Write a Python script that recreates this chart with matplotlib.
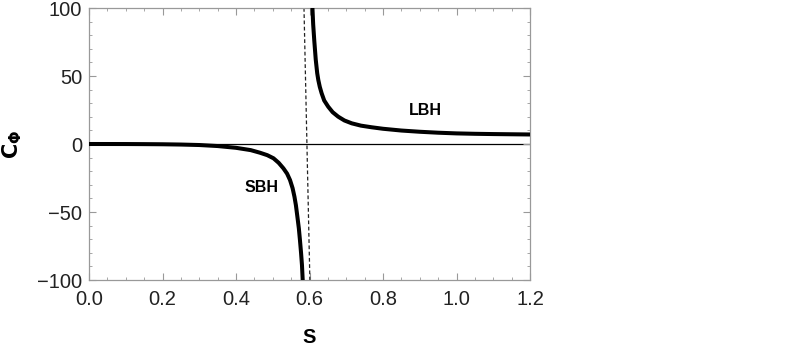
import matplotlib
matplotlib.use("Agg")
import matplotlib.pyplot as plt
from matplotlib.ticker import MultipleLocator

plt.rcParams['font.family'] = ['Liberation Sans', 'DejaVu Sans']

# Small black hole branch
s_sbh = [0.0, 0.05, 0.1, 0.15, 0.2, 0.25, 0.3, 0.35, 0.4, 0.44, 0.465, 0.485, 0.502,
         0.516, 0.529, 0.539, 0.547, 0.554, 0.559, 0.563, 0.567, 0.571, 0.574, 0.577,
         0.5795, 0.5815, 0.583]
c_sbh = [0.0, -0.01, -0.03, -0.1, -0.2, -0.4, -0.75, -1.5, -2.8, -4.5, -6.4, -8.2, -10.5,
         -13.8, -17.9, -21.8, -26.5, -32.5, -38.7, -45.0, -53.4, -62.0, -70.6, -80.0,
         -89.0, -100.0, -112.0]

# Large black hole branch
s_lbh = [0.606, 0.608, 0.610, 0.613, 0.617, 0.621, 0.624, 0.628, 0.633, 0.640, 0.651,
         0.663, 0.678, 0.695, 0.715, 0.74, 0.769, 0.80, 0.85, 0.9, 0.95, 1.0, 1.05,
         1.1, 1.15, 1.2]
c_lbh = [115.0, 100.0, 88.0, 76.0, 62.0, 52.0, 47.0, 42.0, 37.3, 32.0, 27.4,
         23.4, 20.1, 17.3, 15.2, 13.5, 12.3, 11.2, 9.9, 9.0, 8.3, 7.8, 7.5,
         7.3, 7.15, 7.0]

# Asymptote (dashed)
s_asym = [0.585, 0.601]
c_asym = [100.0, -100.0]

labels = {"SBH": (0.470, -32.1), "LBH": (0.914, 24.3)}

fig = plt.figure(figsize=(7.85, 3.46), dpi=100)
ax = fig.add_axes([89/785, 1-280/346, (530-89)/785, (280-8)/346])

ax.axhline(0, color='black', lw=0.9, zorder=1)
ax.plot(s_asym, c_asym, color='#222222', lw=0.9, ls=(0, (3, 2)), zorder=2)
ax.plot(s_sbh, c_sbh, color='black', lw=2.9, solid_capstyle='butt',
        solid_joinstyle='round', zorder=3)
ax.plot(s_lbh, c_lbh, color='black', lw=2.9, solid_capstyle='butt',
        solid_joinstyle='round', zorder=3)

for t, (x, y) in labels.items():
    ax.text(x, y, t, fontsize=11.5, fontweight='bold', ha='center', va='center')

ax.set_xlim(0, 1.2)
ax.set_ylim(-100, 100)
ax.xaxis.set_major_locator(MultipleLocator(0.2))
ax.xaxis.set_minor_locator(MultipleLocator(0.05))
ax.yaxis.set_major_locator(MultipleLocator(50))
ax.yaxis.set_minor_locator(MultipleLocator(10))
ax.xaxis.set_major_formatter(plt.FuncFormatter(lambda v, p: f"{v:.1f}"))
ax.yaxis.set_major_formatter(plt.FuncFormatter(lambda v, p: f"{int(round(v))}".replace('-', '\u2212')))

for sp in ax.spines.values():
    sp.set_color('#999999')
    sp.set_linewidth(0.9)
ax.tick_params(which='both', direction='in', top=True, right=True, color='#999999',
               labelsize=14.5, labelcolor='#222222')
ax.tick_params(which='major', length=5, width=0.8)
ax.tick_params(which='minor', length=2.5, width=0.6)
ax.tick_params(axis='x', which='major', pad=7)
ax.tick_params(axis='y', which='major', pad=5)

ax.set_xlabel('S', fontsize=14.5, fontweight='bold', labelpad=14)
ax.set_ylabel(r'$\mathbf{C_{\Phi}}$', fontsize=15, labelpad=9)

fig.savefig('out.png', dpi=100)
